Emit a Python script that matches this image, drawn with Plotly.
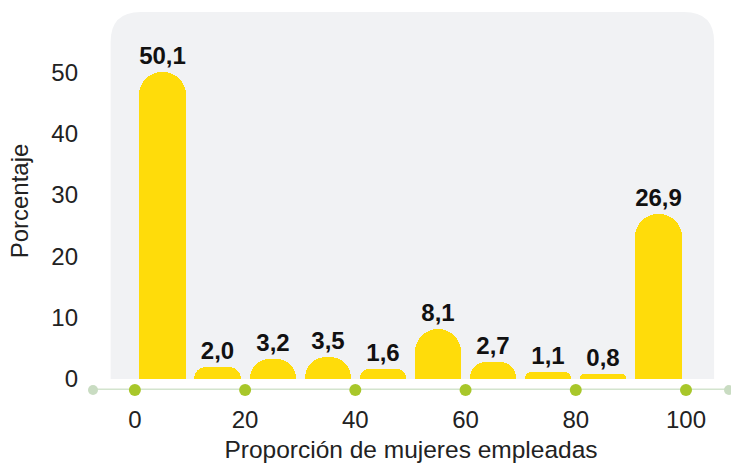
import plotly.graph_objects as go

# Data
bin_centers = [5, 15, 25, 35, 45, 55, 65, 75, 85, 95]
percentages = [50.1, 2.0, 3.2, 3.5, 1.6, 8.1, 2.7, 1.1, 0.8, 26.9]
x_ticks = [0, 20, 40, 60, 80, 100]
y_ticks = [0, 10, 20, 30, 40, 50]
x_title = "Proporción de mujeres empleadas"
y_title = "Porcentaje"

X_RANGE = [-7.6, 107.8]
Y_RANGE = [-1.8, 59.8]
FONT = "Liberation Sans"
BAR_COLOR = "#FFDC0A"

fig = go.Figure()

# rounded background panel (top corners rounded)
px_per_x = 636 / (X_RANGE[1] - X_RANGE[0])
px_per_y = 378 / (Y_RANGE[1] - Y_RANGE[0])
rx = 30 / px_per_x
ry = 30 / px_per_y
x0, x1, y0, y1 = -4.4, 105.1, 0, Y_RANGE[1]
panel = (f"M {x0},{y0} L {x0},{y1-ry} Q {x0},{y1} {x0+rx},{y1} "
         f"L {x1-rx},{y1} Q {x1},{y1} {x1},{y1-ry} L {x1},{y0} Z")
fig.add_shape(type="path", path=panel, xref="x", yref="y",
              fillcolor="#F1F2F4", line=dict(width=0), layer="below")

# axis line
fig.add_shape(type="line", x0=X_RANGE[0], x1=X_RANGE[1], y0=Y_RANGE[0], y1=Y_RANGE[0],
              xref="x", yref="y", line=dict(color="#D3E4CE", width=3), layer="below")

fig.add_trace(go.Bar(
    x=bin_centers, y=percentages, width=8.4,
    marker=dict(color=BAR_COLOR, line=dict(width=0), cornerradius="50%"),
    texttemplate="%{y:.1f}", textposition="outside",
    textfont=dict(family=FONT, size=24, color="#111111", weight="bold"),
    cliponaxis=False, hoverinfo="skip", showlegend=False,
))

# axis end dots
fig.add_trace(go.Scatter(
    x=X_RANGE, y=[Y_RANGE[0]] * 2, mode="markers",
    marker=dict(color="#C9DCC2", size=10), cliponaxis=False,
    hoverinfo="skip", showlegend=False))
# tick dots
fig.add_trace(go.Scatter(
    x=x_ticks, y=[Y_RANGE[0]] * len(x_ticks), mode="markers",
    marker=dict(color="#A8C72A", size=12), cliponaxis=False,
    hoverinfo="skip", showlegend=False))

fig.update_layout(
    width=731, height=465,
    margin=dict(l=93, r=2, t=12, b=75),
    paper_bgcolor="white", plot_bgcolor="white",
    separators=",.",
    font=dict(family=FONT, size=24, color="#222222"),
    bargap=0,
    xaxis=dict(range=X_RANGE, tickvals=x_ticks, showgrid=False, zeroline=False,
               showline=False, ticks="", ticklabelstandoff=13, automargin=False,
               tickfont=dict(size=24, color="#222222"),
               title=dict(text=x_title, font=dict(size=24.5), standoff=8)),
    yaxis=dict(range=Y_RANGE, tickvals=y_ticks, showgrid=False, zeroline=False,
               showline=False, ticks="", ticklabelstandoff=14, automargin=False,
               tickfont=dict(size=24, color="#222222"),
               title=dict(text=y_title, font=dict(size=24), standoff=15)),
)

fig.write_html("out.html", config={"displayModeBar": False},
               post_script="document.body.style.margin='0';")
